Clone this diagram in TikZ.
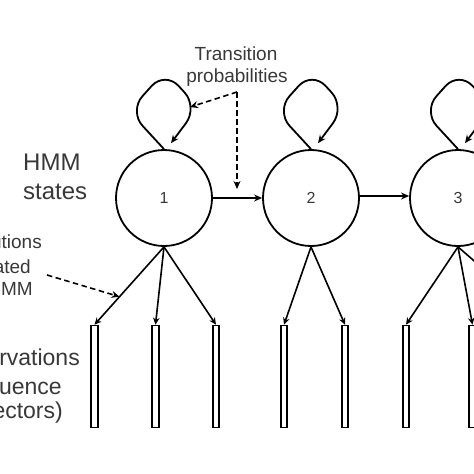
\documentclass[tikz,border=0pt]{standalone}
\usepackage{fontspec}
\setmainfont{Liberation Sans}
\usetikzlibrary{arrows.meta,calc}
\begin{document}
\begin{tikzpicture}[x=1pt,y=-1pt,
  state/.style={circle,draw,line width=1.8pt,minimum size=96pt,inner sep=0pt,
    font=\fontsize{16}{16}\selectfont,text=black!78},
  obs/.style={rectangle,draw,line width=1.6pt,minimum width=6.5pt,minimum height=102pt,inner sep=0pt},
  arr/.style={line width=1.6pt,-{Stealth[length=8pt,width=7pt]}},
  emit/.style={line width=1.6pt,-{Stealth[length=7pt,width=6.5pt]}},
  dasharr/.style={line width=1.6pt,dash pattern=on 5.5pt off 3.5pt,-{Stealth[length=8pt,width=7pt]}},
  selfloop/.style={line width=1.8pt,rounded corners=20pt,-{Stealth[length=8pt,width=7pt]}},
  lbl/.style={inner sep=0pt,text=black!78},
  small/.style={font=\fontsize{19}{19}\selectfont},
  big/.style={font=\fontsize{24}{24}\selectfont},
  mid/.style={font=\fontsize{23}{23}\selectfont},
]
\clip (0,0) rectangle (474,474);

% states
\node[state] (c1) at (164,198) {1};
\node[state] (c2) at (311,198) {2};
\node[state] (c3) at (458,198) {3};

% observation bars
\node[obs] (b1) at (94.5,376.5) {};
\node[obs] (b2) at (155.5,376.5) {};
\node[obs] (b3) at (216,376.5) {};
\node[obs] (b4) at (284,376.5) {};
\node[obs] (b5) at (345,376.5) {};
\node[obs] (b6) at (406,376.5) {};
\node[obs] (b7) at (472.5,376.5) {};
\coordinate (b8) at (548,325);

% transitions
\draw[arr] (c1.east) -- (c2.west);
\draw[arr] ([yshift=2pt]c2.east) -- ([yshift=2pt]c3.west);

% self loops
\draw[selfloop] (c1.north) -- ++(-35,-38) -- ++(36,-40) -- ++(33,36) -- ++(-27,36);
\draw[selfloop] (c2.north) -- ++(-35,-38) -- ++(36,-40) -- ++(33,36) -- ++(-27,36);
\draw[selfloop] (c3.north) -- ++(-35,-38) -- ++(36,-40) -- ++(33,36) -- ++(-27,36);

% emissions
\draw[emit] (c1.south) -- (b1.north);
\draw[emit] (c1.south) -- (b2.north);
\draw[emit] (c1.south) -- (b3.north);
\draw[emit] (c2.south) -- (b4.north);
\draw[emit] (c2.south) -- (b5.north);
\draw[emit] (c3.south) -- (b6.north);
\draw[emit] (c3.south) -- (b7.north);
\draw[emit] (c3.south) -- (b8);

% labels
\node[lbl,small,anchor=base] (tp1) at (236,60) {Transition};
\node[lbl,small,anchor=base] (tp2) at (237,82) {probabilities};
\coordinate (tq) at (237,92);
\coordinate (r1) at ($(c1.north)+(26,-42)$);
\coordinate (ta) at (237,189);
\draw[dasharr] (tq) -- (r1);
\draw[dasharr] (tq) -- (ta);

\node[lbl,big,anchor=base west] (h1) at (23,170) {HMM};
\node[lbl,big,anchor=base west] (h2) at (23,199) {states};

\node[lbl,small,anchor=base east] (d1) at (42,248) {Distributions};
\node[lbl,small,anchor=base east] (d2) at (31,273) {associated};
\node[lbl,small,anchor=base east] (d3) at (33,295) {with HMM};
\path (c1.south) -- (b1.north) coordinate[pos=0.64] (e1);
\coordinate (ds) at (47,275);
\draw[dasharr] (ds) -- (e1);

\node[lbl,mid,anchor=base east] (o1) at (80,365) {Observations};
\node[lbl,mid,anchor=base east] (o2) at (62,394) {sequence};
\node[lbl,mid,anchor=base east] (o3) at (63,418) {(vectors)};
\end{tikzpicture}
\end{document}
